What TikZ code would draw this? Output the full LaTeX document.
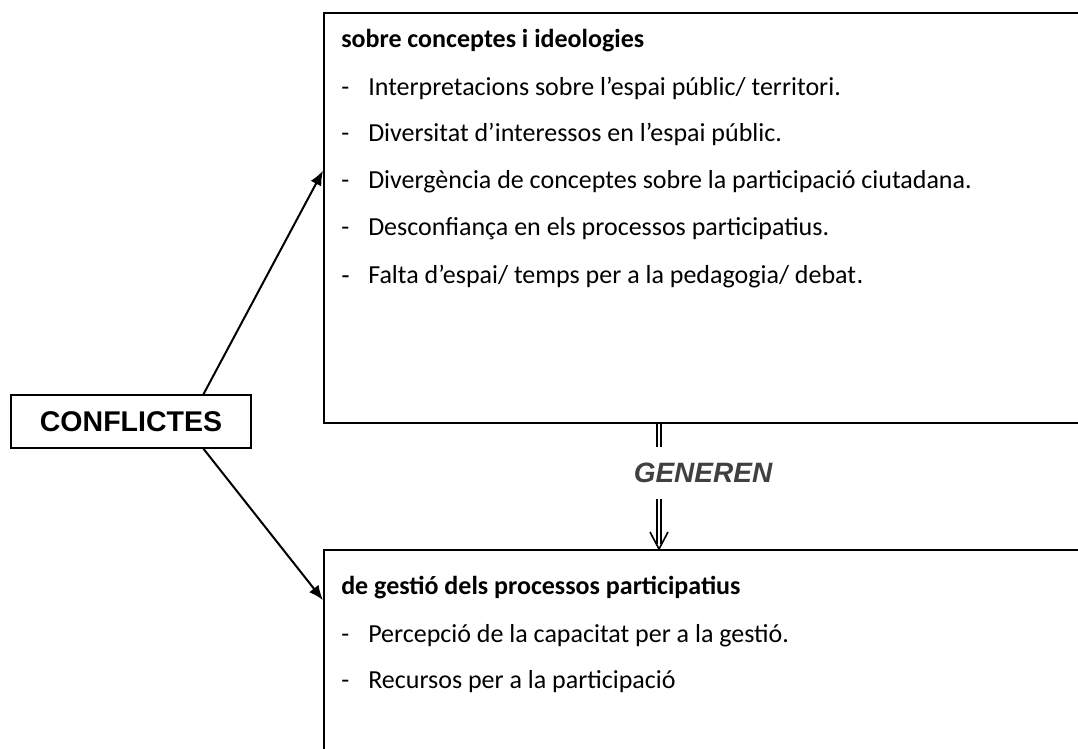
\documentclass[tikz,border=0pt]{standalone}
\usepackage{fontspec}
\setmainfont{Carlito}
\newfontfamily\arial{Liberation Sans}
\usetikzlibrary{arrows.meta,calc}
\newcommand{\itm}[1]{\hbox to 20.25pt{-\hfil}#1}
\begin{document}
\begin{tikzpicture}[x=0.75pt,y=-0.75pt,
  bigbox/.style={draw, line width=1.5pt, anchor=north west, minimum width=575.25pt, inner sep=0pt},
  smallbox/.style={draw, line width=1.1pt, minimum width=180pt, minimum height=39.75pt, inner sep=0pt, font=\arial\bfseries\fontsize{21.4}{24}\selectfont},
  txt/.style={anchor=base west, inner sep=0pt, font=\fontsize{19.5}{22}\selectfont},
  head/.style={txt, font=\fontsize{19.5}{22}\selectfont\bfseries},
  conn/.style={line width=1.5pt, -{Latex[length=11pt,width=9pt]}},
  dbl/.style={line width=1pt, double distance=2.2pt},
  vtip/.style={line width=1.2pt, line join=miter}
]
\useasboundingbox (0,0) rectangle (1078,749);
\clip (0,0) rectangle (1078,749);
\node[bigbox, minimum height=307.5pt] (tb) at (323,12) {};
\node[bigbox, minimum height=158.25pt] (bb) at (323,549) {};
\node[smallbox] (cf) at (131,421.5) {CONFLICTES};
\node[inner xsep=0pt, inner ysep=11.6pt, text=black!75, font=\arial\bfseries\itshape\fontsize{21}{24}\selectfont] (g) at (703,473) {GENEREN};
\coordinate (m) at (659,473);
\coordinate (tip) at (m |- bb.north);

\node[head] (h1) at (341,48) {sobre conceptes i ideologies};
\node[txt] (a1) at (341,95) {\itm{Interpretacions sobre l’espai públic/ territori.}};
\node[txt] (a2) at (341,141) {\itm{Diversitat d’interessos en l’espai públic.}};
\node[txt] (a3) at (341,188) {\itm{Divergència de conceptes sobre la participació ciutadana.}};
\node[txt] (a4) at (341,235) {\itm{Desconfiança en els processos participatius.}};
\node[txt] (a5) at (341,283) {\hbox to 20.25pt{{\arial\fontsize{19}{20}\selectfont -}\hfil}Falta d’espai/ temps per a la pedagogia/ debat{\arial\fontsize{21}{22}\selectfont .}};

\node[head] (h2) at (341,594) {de gestió dels processos participatius};
\node[txt] (b1) at (341,642) {\itm{Percepció de la capacitat per a la gestió.}};
\node[txt] (b2) at (341,688) {\itm{Recursos per a la participació}};

\draw[conn] ($(cf.north west)!0.8!(cf.north east)$) -- ($(tb.north west)!0.385!(tb.south west)$);
\draw[conn] ($(cf.south west)!0.8!(cf.south east)$) -- ($(bb.north west)!0.24!(bb.south west)$);
\draw[dbl] (m |- tb.south) -- (m |- g.north);
\draw[dbl, shorten >=4pt] (m |- g.south) -- (tip);
\draw[vtip] ($(tip)+(-9,-17)$) .. controls ($(tip)+(-4,-9)$) .. (tip) .. controls ($(tip)+(4,-9)$) .. ($(tip)+(9,-17)$);
\end{tikzpicture}
\end{document}
